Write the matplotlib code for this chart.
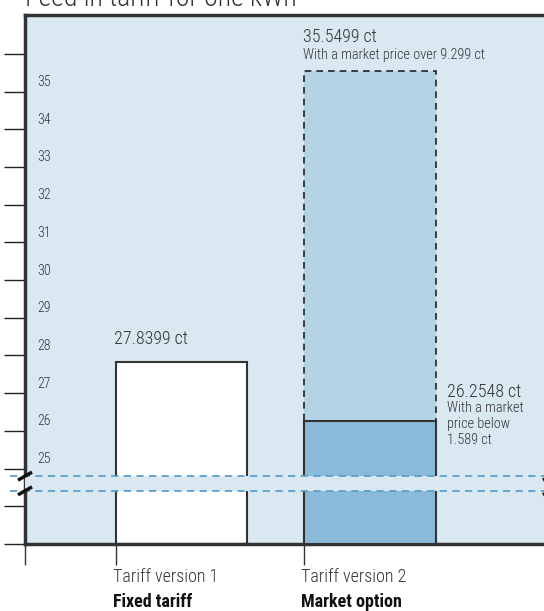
import numpy as np
import matplotlib
matplotlib.use("Agg")
import matplotlib.pyplot as plt
import matplotlib.font_manager as fm
from matplotlib.patches import Rectangle

# ---- data ----
categories = ["Tariff version 1", "Tariff version 2"]
subtitles = ["Fixed tariff", "Market option"]
fixed_value = 27.8399
market_high = 35.5499
market_low = 26.2548
high_note = "With a market price over 9.299 ct"
low_note = "With a market\nprice below\n1.589 ct"
title = "Feed in tariff for one kWh"
ytick_values = [0, 1, 25, 26, 27, 28, 29, 30, 31, 32, 33, 34, 35, 36]
ylabel_values = [25, 26, 27, 28, 29, 30, 31, 32, 33, 34, 35]

# ---- font selection ----
names = {f.name for f in fm.fontManager.ttflist}
family = "Roboto Condensed" if "Roboto Condensed" in names else "Liberation Sans"
plt.rcParams["font.family"] = [family, "DejaVu Sans"]
LW = "light"

TXT = "#333333"
BG = "#d9e8f1"
UPPER = "#b4d4e6"
LOWER = "#8abada"
BREAK = "#5b9fcc"

def fwd(v):
    v = np.asarray(v, dtype=float)
    return np.where(v <= 1, v, np.where(v >= 25, v - 23, 1 + (v - 1) / 24))

def inv(u):
    u = np.asarray(u, dtype=float)
    return np.where(u <= 1, u, np.where(u >= 2, u + 23, 1 + (u - 1) * 24))

W, H = 544, 611
fig = plt.figure(figsize=(W / 100, H / 100), dpi=100)
ax = fig.add_axes([25 / W, 67 / H, 525 / W, 529 / H])
ax.set_facecolor(BG)
ax.set_yscale("function", functions=(fwd, inv))
ax.set_ylim(0, 37.03)
ax.set_xlim(-0.83, 1.955)

x = np.arange(len(categories))
bw = 0.698
# bars
ax.bar(x[0], fixed_value, width=bw, color="white", edgecolor="#333333", linewidth=1.5, zorder=2)
ax.bar(x[1], market_high - market_low, bottom=market_low, width=bw, color=UPPER,
       edgecolor="#222222", linewidth=1.2, linestyle=(0, (4, 3)), zorder=2)
ax.bar(x[1], market_low, width=bw, color=LOWER, edgecolor="#333333", linewidth=1.5, zorder=3)

# break band
b0, b1 = 1.41 / 14.03, 1.80 / 14.03
ax.add_patch(Rectangle((0, b0), 1, b1 - b0, transform=ax.transAxes, color=BG, zorder=4, lw=0))
for yb in (b0, b1):
    ax.plot([-0.0286, 1.0], [yb, yb], transform=ax.transAxes, color=BREAK, lw=1.3,
            ls=(0, (4, 3)), clip_on=False, zorder=5)
    for xc in (0.0, 1.0):
        dx, dy = 7 / 525, 4 / 529
        ax.plot([xc - dx, xc + dx], [yb - dy, yb + dy], transform=ax.transAxes, color="#111111",
                lw=2.5, clip_on=False, zorder=6, solid_capstyle="butt")

# spines
for s in ("left", "bottom", "top"):
    ax.spines[s].set_linewidth(2.5)
    ax.spines[s].set_color("#333333")
ax.spines["right"].set_visible(False)

# ticks
ax.set_yticks(ytick_values)
ax.set_yticklabels([])
ax.yaxis.set_minor_locator(matplotlib.ticker.NullLocator())
ax.tick_params(axis="y", length=15, width=1, color="#222222", direction="out")
ax.set_xticks([-0.83, x[0] - bw / 2, x[1] - bw / 2])
ax.set_xticklabels([])
ax.tick_params(axis="x", length=15, width=1, color="#333333", direction="out")

ytr = ax.get_yaxis_transform()
for v in ylabel_values:
    ax.annotate(str(v), xy=(0, v), xycoords=ytr, xytext=(12, 9.5), textcoords="offset pixels",
                ha="left", va="center", fontsize=10, color=TXT, fontweight=LW)

# value labels
ax.annotate(f"{fixed_value} ct", xy=(x[0] - bw / 2, fixed_value), xytext=(-2, 23), textcoords="offset pixels",
            ha="left", va="center", fontsize=13, color=TXT, fontweight=LW)
ax.annotate(f"{market_high} ct", xy=(x[1] - bw / 2, market_high), xytext=(-1, 34), textcoords="offset pixels",
            ha="left", va="center", fontsize=13, color=TXT, fontweight=LW)
ax.annotate(high_note, xy=(x[1] - bw / 2, market_high), xytext=(-1, 16), textcoords="offset pixels",
            ha="left", va="center", fontsize=10.3, color=TXT, fontweight=LW)
ax.annotate(f"{market_low} ct", xy=(x[1] + bw / 2, market_low), xytext=(11, 29), textcoords="offset pixels",
            ha="left", va="center", fontsize=13, color=TXT, fontweight=LW)
ax.annotate(low_note, xy=(x[1] + bw / 2, market_low), xytext=(11, 20), textcoords="offset pixels",
            ha="left", va="top", fontsize=10.3, color=TXT, linespacing=1.17, fontweight=LW)

# category labels
xtr = ax.get_xaxis_transform()
for i, (c, s) in enumerate(zip(categories, subtitles)):
    ax.annotate(c, xy=(x[i] - bw / 2, 0), xycoords=xtr, xytext=(-3, -33), textcoords="offset pixels",
                ha="left", va="center", fontsize=13, color=TXT, fontweight=LW)
    ax.annotate(s, xy=(x[i] - bw / 2, 0), xycoords=xtr, xytext=(-3, -58), textcoords="offset pixels",
                ha="left", va="center", fontsize=13, color="#111111", fontweight="bold")

fig.text(25 / W, 1 - 6 / H, title, ha="left", va="baseline", fontsize=20, color=TXT, fontweight=LW)

fig.savefig("out.png", dpi=100)
